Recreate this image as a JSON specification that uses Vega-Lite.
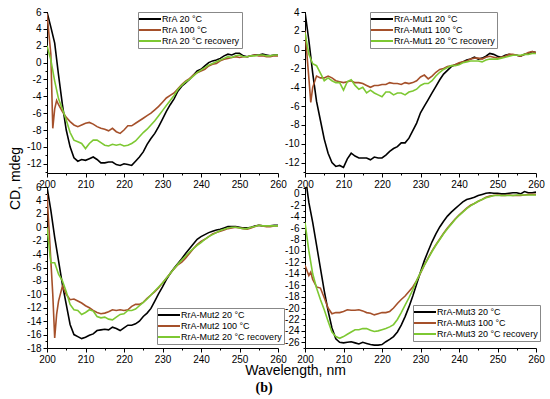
{
"$schema": "https://vega.github.io/schema/vega-lite/v6.json",
"padding": {"left": 8, "top": 7, "right": 5, "bottom": 3},
"title": {"text": "(b)", "orient": "bottom", "font": "Liberation Serif", "fontSize": 14, "fontWeight": "bold", "anchor": "middle", "offset": 4, "dx": -12, "color": "black"},
"columns": 2,
"spacing": {"row": 14, "column": 27},
"bounds": "flush",
"resolve": {"scale": {"color": "independent", "y": "independent"}, "legend": {"color": "independent"}},
"datasets": {
"p1": [
{"w":200,"a":6,"b":5.8,"c":2.0},{"w":201,"a":4.2,"b":1.0,"c":0.3},{"w":201.5,"b":-7.8},{"w":202,"a":2.3,"b":-5.5,"c":-2.2},{"w":202.5,"b":-4.5},
{"w":203,"a":-1.5,"b":-5.0,"c":-4.3},{"w":204,"a":-5.0,"b":-5.8,"c":-5.5},{"w":205,"a":-8.0,"b":-6.5,"c":-6.8},{"w":206,"a":-10.0,"b":-7.0,"c":-8.3},
{"w":207,"a":-11.3,"b":-7.4,"c":-9.2},{"w":208,"a":-11.7,"b":-7.6,"c":-9.4},{"w":209,"a":-11.5,"b":-7.4,"c":-9.6},{"w":210,"a":-11.6,"b":-7.2,"c":-10.2},
{"w":211,"a":-11.4,"b":-7.1,"c":-9.6},{"w":212,"a":-11.2,"b":-7.3,"c":-9.2},{"w":213,"a":-11.5,"b":-7.6,"c":-9.2},{"w":214,"a":-11.9,"b":-7.8,"c":-9.5},
{"w":215,"a":-11.9,"b":-7.9,"c":-9.8},{"w":216,"a":-11.8,"b":-8.1,"c":-9.9},{"w":217,"a":-11.8,"b":-7.8,"c":-9.7},{"w":218,"a":-12.1,"b":-8.2,"c":-9.8},
{"w":219,"a":-12.2,"b":-8.4,"c":-9.7},{"w":220,"a":-12.0,"b":-8.0,"c":-9.9},{"w":221,"a":-12.1,"b":-7.5,"c":-9.8},{"w":222,"a":-12.2,"b":-7.5,"c":-9.6},
{"w":223,"a":-11.7,"b":-7.2,"c":-9.3},{"w":224,"a":-11.2,"b":-6.9,"c":-8.8},{"w":225,"a":-10.6,"b":-6.6,"c":-8.3},{"w":226,"a":-9.7,"b":-6.3,"c":-7.9},
{"w":227,"a":-9.0,"b":-6.0,"c":-7.4},{"w":228,"a":-8.4,"b":-5.6,"c":-6.9},{"w":229,"a":-7.6,"b":-5.2,"c":-6.3},{"w":230,"a":-6.7,"b":-4.7,"c":-5.7},
{"w":231,"a":-5.8,"b":-4.2,"c":-5.1},{"w":232,"a":-5.0,"b":-3.9,"c":-4.5},{"w":233,"a":-4.3,"b":-3.6,"c":-3.9},{"w":234,"a":-3.4,"b":-3.1,"c":-3.2},
{"w":235,"a":-2.8,"b":-2.6,"c":-2.7},{"w":236,"a":-2.4,"b":-2.2,"c":-2.3},{"w":237,"a":-2.0,"b":-1.9,"c":-2.0},{"w":238,"a":-1.5,"b":-1.5,"c":-1.6},
{"w":239,"a":-1.0,"b":-1.2,"c":-1.2},{"w":240,"a":-0.8,"b":-1.0,"c":-0.9},{"w":241,"a":-0.4,"b":-0.8,"c":-0.6},{"w":242,"a":0.0,"b":-0.4,"c":-0.3},
{"w":243,"a":0.2,"b":-0.2,"c":-0.1},{"w":244,"a":0.3,"b":-0.1,"c":0.1},{"w":245,"a":0.5,"b":0.2,"c":0.3},{"w":246,"a":0.8,"b":0.4,"c":0.5},
{"w":247,"a":1.0,"b":0.5,"c":0.7},{"w":248,"a":0.9,"b":0.6,"c":0.6},{"w":249,"a":1.1,"b":0.7,"c":0.8},{"w":250,"a":1.1,"b":0.6,"c":0.9},
{"w":251,"a":0.8,"b":0.7,"c":0.7},{"w":252,"a":0.7,"b":0.7,"c":0.7},{"w":253,"a":0.8,"b":0.8,"c":0.8},{"w":254,"a":0.9,"b":0.9,"c":0.8},
{"w":255,"a":0.9,"b":0.8,"c":0.9},{"w":256,"a":1.0,"b":0.8,"c":0.9},{"w":257,"a":0.9,"b":0.7,"c":0.8},{"w":258,"a":0.8,"b":0.7,"c":0.8},
{"w":259,"a":0.9,"b":0.8,"c":0.9},{"w":260,"a":0.9,"b":0.8,"c":0.9}
],
"p2": [
{"w":200,"a":4.0,"b":2.0,"c":1.8},{"w":201,"a":1.0,"b":-3.0,"c":-0.5},{"w":201.5,"b":-5.6},{"w":202,"a":-2.5,"b":-4.0,"c":-1.5},
{"w":203,"a":-5.5,"b":-2.8,"c":-1.7},{"w":204,"a":-7.5,"b":-3.0,"c":-2.5},{"w":205,"a":-9.5,"b":-3.0,"c":-3.3},{"w":206,"a":-11.0,"b":-2.8,"c":-3.0},
{"w":207,"a":-12.0,"b":-3.0,"c":-3.3},{"w":208,"a":-12.4,"b":-3.3,"c":-3.5},{"w":209,"a":-12.3,"b":-3.4,"c":-3.5},{"w":210,"a":-12.5,"b":-3.5,"c":-4.3},
{"w":211,"a":-11.6,"b":-3.4,"c":-3.4},{"w":212,"a":-11.0,"b":-3.3,"c":-3.2},{"w":213,"a":-11.3,"b":-3.5,"c":-3.8},{"w":214,"a":-11.5,"b":-3.5,"c":-4.2},
{"w":215,"a":-11.5,"b":-3.6,"c":-4.0},{"w":216,"a":-11.5,"b":-3.8,"c":-4.6},{"w":217,"a":-11.7,"b":-4.0,"c":-4.3},{"w":218,"a":-11.4,"b":-3.8,"c":-4.6},
{"w":219,"a":-11.5,"b":-3.8,"c":-4.8},{"w":220,"a":-11.5,"b":-3.7,"c":-5.0},{"w":221,"a":-11.2,"b":-3.7,"c":-4.5},{"w":222,"a":-10.8,"b":-3.5,"c":-4.5},
{"w":223,"a":-10.5,"b":-3.6,"c":-4.8},{"w":224,"a":-10.3,"b":-3.6,"c":-4.6},{"w":225,"a":-9.9,"b":-3.7,"c":-4.6},{"w":226,"a":-9.9,"b":-3.5,"c":-4.8},
{"w":227,"a":-9.4,"b":-3.6,"c":-4.5},{"w":228,"a":-8.6,"b":-3.5,"c":-4.4},{"w":229,"a":-7.8,"b":-3.3,"c":-4.2},{"w":230,"a":-6.7,"b":-2.9,"c":-3.8},
{"w":231,"a":-6.0,"b":-2.7,"c":-3.6},{"w":232,"a":-5.3,"b":-3.1,"c":-3.6},{"w":233,"a":-4.6,"b":-2.8,"c":-3.3},{"w":234,"a":-3.9,"b":-2.4,"c":-2.8},
{"w":235,"a":-3.2,"b":-2.1,"c":-2.4},{"w":236,"a":-2.6,"b":-2.0,"c":-2.1},{"w":237,"a":-2.2,"b":-1.8,"c":-1.9},{"w":238,"a":-1.8,"b":-1.7,"c":-1.7},
{"w":239,"a":-1.6,"b":-1.6,"c":-1.7},{"w":240,"a":-1.5,"b":-1.4,"c":-1.6},{"w":241,"a":-1.3,"b":-1.3,"c":-1.4},{"w":242,"a":-1.1,"b":-1.2,"c":-1.3},
{"w":243,"a":-1.0,"b":-1.0,"c":-1.2},{"w":244,"a":-0.8,"b":-0.9,"c":-1.2},{"w":245,"a":-1.0,"b":-0.9,"c":-1.2},{"w":246,"a":-0.9,"b":-1.0,"c":-1.3},
{"w":247,"a":-0.7,"b":-0.8,"c":-1.1},{"w":248,"a":-0.4,"b":-0.7,"c":-1.0},{"w":249,"a":-0.5,"b":-0.8,"c":-1.0},{"w":250,"a":-0.7,"b":-0.9,"c":-1.0},
{"w":251,"a":-0.8,"b":-0.8,"c":-0.9},{"w":252,"a":-0.6,"b":-0.7,"c":-0.8},{"w":253,"a":-0.5,"b":-0.5,"c":-0.7},{"w":254,"a":-0.6,"b":-0.5,"c":-0.6},
{"w":255,"a":-0.6,"b":-0.6,"c":-0.6},{"w":256,"a":-0.7,"b":-0.7,"c":-0.6},{"w":257,"a":-0.5,"b":-0.5,"c":-0.5},{"w":258,"a":-0.4,"b":-0.3,"c":-0.5},
{"w":259,"a":-0.2,"b":-0.2,"c":-0.4},{"w":260,"a":-0.3,"b":-0.3,"c":-0.4}
],
"p3": [
{"w":200,"a":6.0,"b":5.0,"c":0.0},{"w":201,"a":2.5,"b":-5.0,"c":-5.3},{"w":201.5,"b":-10.0},{"w":202,"a":-1.5,"b":-16.5,"c":-5.3},{"w":202.5,"b":-13.0},
{"w":203,"a":-5.0,"b":-11.0,"c":-7.0},{"w":204,"a":-8.5,"b":-8.8,"c":-8.0},{"w":205,"a":-11.5,"b":-10.0,"c":-9.6},{"w":206,"a":-14.5,"b":-10.8,"c":-11.5},
{"w":207,"a":-16.0,"b":-10.7,"c":-12.3},{"w":208,"a":-16.3,"b":-11.0,"c":-12.4},{"w":209,"a":-16.6,"b":-11.3,"c":-13.0},{"w":210,"a":-16.4,"b":-11.7,"c":-12.7},
{"w":211,"a":-16.1,"b":-12.0,"c":-12.3},{"w":212,"a":-15.9,"b":-12.4,"c":-12.5},{"w":213,"a":-15.4,"b":-12.7,"c":-13.3},{"w":214,"a":-15.3,"b":-12.9,"c":-13.5},
{"w":215,"a":-15.2,"b":-12.8,"c":-13.4},{"w":216,"a":-15.3,"b":-12.6,"c":-13.7},{"w":217,"a":-14.9,"b":-12.3,"c":-13.8},{"w":218,"a":-15.1,"b":-12.4,"c":-13.4},
{"w":219,"a":-15.4,"b":-12.3,"c":-13.0},{"w":220,"a":-15.0,"b":-12.4,"c":-12.9},{"w":221,"a":-14.6,"b":-12.3,"c":-12.4},{"w":222,"a":-14.6,"b":-11.8,"c":-12.4},
{"w":223,"a":-14.4,"b":-11.5,"c":-12.2},{"w":224,"a":-14.0,"b":-11.5,"c":-11.7},{"w":225,"a":-13.3,"b":-11.2,"c":-11.2},{"w":226,"a":-12.8,"b":-10.6,"c":-10.7},
{"w":227,"a":-12.1,"b":-10.1,"c":-10.1},{"w":228,"a":-11.0,"b":-9.6,"c":-9.5},{"w":229,"a":-9.9,"b":-9.0,"c":-8.9},{"w":230,"a":-8.9,"b":-8.3,"c":-8.3},
{"w":231,"a":-7.8,"b":-7.6,"c":-7.6},{"w":232,"a":-6.9,"b":-6.9,"c":-6.9},{"w":233,"a":-6.1,"b":-6.2,"c":-6.2},{"w":234,"a":-5.4,"b":-5.6,"c":-5.5},
{"w":235,"a":-4.7,"b":-5.2,"c":-4.9},{"w":236,"a":-3.9,"b":-4.6,"c":-4.3},{"w":237,"a":-3.2,"b":-3.9,"c":-3.7},{"w":238,"a":-2.5,"b":-3.2,"c":-3.2},
{"w":239,"a":-1.8,"b":-2.6,"c":-2.7},{"w":240,"a":-1.4,"b":-2.1,"c":-2.3},{"w":241,"a":-1.1,"b":-1.8,"c":-1.8},{"w":242,"a":-0.8,"b":-1.4,"c":-1.4},
{"w":243,"a":-0.6,"b":-1.0,"c":-1.1},{"w":244,"a":-0.4,"b":-0.8,"c":-0.8},{"w":245,"a":-0.3,"b":-0.6,"c":-0.5},{"w":246,"a":-0.1,"b":-0.4,"c":-0.3},
{"w":247,"a":0.1,"b":-0.2,"c":-0.1},{"w":248,"a":0.1,"b":-0.1,"c":0.0},{"w":249,"a":0.1,"b":0.0,"c":0.0},{"w":250,"a":0.0,"b":-0.1,"c":-0.1},
{"w":251,"a":-0.1,"b":-0.2,"c":-0.2},{"w":252,"a":-0.1,"b":-0.3,"c":-0.2},{"w":253,"a":0.0,"b":-0.1,"c":0.0},{"w":254,"a":0.2,"b":0.1,"c":0.1},
{"w":255,"a":0.3,"b":0.3,"c":0.3},{"w":256,"a":0.2,"b":0.2,"c":0.2},{"w":257,"a":0.2,"b":0.1,"c":0.2},{"w":258,"a":0.2,"b":0.1,"c":0.2},
{"w":259,"a":0.3,"b":0.2,"c":0.2},{"w":260,"a":0.3,"b":0.2,"c":0.2}
],
"p4": [
{"w":200,"a":3.5,"b":-12.5,"c":-5.0},{"w":201,"a":-1.5,"b":-14.3,"c":-10.0},{"w":201.5,"b":-13.7},{"w":202,"a":-5.0,"b":-15.0,"c":-14.0},
{"w":203,"a":-9.0,"b":-16.3,"c":-16.5},{"w":204,"a":-13.0,"b":-16.5,"c":-18.5},{"w":205,"a":-17.0,"b":-18.2,"c":-20.3},{"w":206,"a":-20.5,"b":-20.0,"c":-22.3},
{"w":207,"a":-23.5,"b":-21.0,"c":-24.2},{"w":208,"a":-25.4,"b":-20.8,"c":-25.0},{"w":209,"a":-26.0,"b":-20.8,"c":-25.3},{"w":210,"a":-26.1,"b":-20.6,"c":-25.0},
{"w":211,"a":-26.0,"b":-20.3,"c":-24.6},{"w":212,"a":-25.9,"b":-20.4,"c":-24.2},{"w":213,"a":-26.1,"b":-20.4,"c":-23.8},{"w":214,"a":-26.3,"b":-20.3,"c":-23.8},
{"w":215,"a":-26.0,"b":-20.5,"c":-23.6},{"w":216,"a":-26.2,"b":-20.8,"c":-23.6},{"w":217,"a":-26.4,"b":-20.9,"c":-23.9},{"w":218,"a":-26.5,"b":-21.2,"c":-24.1},
{"w":219,"a":-26.5,"b":-21.0,"c":-24.0},{"w":220,"a":-26.4,"b":-20.8,"c":-23.8},{"w":221,"a":-25.9,"b":-20.8,"c":-23.6},{"w":222,"a":-25.5,"b":-20.6,"c":-23.3},
{"w":223,"a":-25.0,"b":-20.0,"c":-22.9},{"w":224,"a":-24.2,"b":-19.2,"c":-22.0},{"w":225,"a":-23.0,"b":-18.5,"c":-20.8},{"w":226,"a":-21.5,"b":-17.9,"c":-19.5},
{"w":227,"a":-19.8,"b":-17.1,"c":-18.2},{"w":228,"a":-17.9,"b":-16.3,"c":-16.8},{"w":229,"a":-15.8,"b":-15.2,"c":-15.2},{"w":230,"a":-13.7,"b":-13.9,"c":-13.8},
{"w":231,"a":-11.7,"b":-12.5,"c":-12.5},{"w":232,"a":-10.0,"b":-11.2,"c":-11.3},{"w":233,"a":-8.4,"b":-10.0,"c":-10.1},{"w":234,"a":-7.0,"b":-8.9,"c":-9.0},
{"w":235,"a":-5.8,"b":-7.9,"c":-8.0},{"w":236,"a":-4.8,"b":-6.9,"c":-7.0},{"w":237,"a":-3.9,"b":-6.0,"c":-6.1},{"w":238,"a":-3.2,"b":-5.2,"c":-5.3},
{"w":239,"a":-2.6,"b":-4.4,"c":-4.5},{"w":240,"a":-2.0,"b":-3.7,"c":-3.8},{"w":241,"a":-1.4,"b":-3.1,"c":-3.2},{"w":242,"a":-1.0,"b":-2.5,"c":-2.6},
{"w":243,"a":-0.8,"b":-2.0,"c":-2.1},{"w":244,"a":-0.6,"b":-1.7,"c":-1.7},{"w":245,"a":-0.3,"b":-1.3,"c":-1.3},{"w":246,"a":-0.1,"b":-1.0,"c":-1.0},
{"w":247,"a":0.1,"b":-0.6,"c":-0.7},{"w":248,"a":0.2,"b":-0.4,"c":-0.5},{"w":249,"a":0.1,"b":-0.3,"c":-0.3},{"w":250,"a":0.1,"b":-0.2,"c":-0.3},
{"w":251,"a":0.0,"b":-0.3,"c":-0.3},{"w":252,"a":0.0,"b":-0.3,"c":-0.3},{"w":253,"a":0.1,"b":-0.2,"c":-0.3},{"w":254,"a":0.2,"b":-0.3,"c":-0.3},
{"w":255,"a":0.2,"b":-0.3,"c":-0.2},{"w":256,"a":0.0,"b":-0.3,"c":-0.2},{"w":257,"a":0.4,"b":-0.2,"c":-0.2},{"w":258,"a":0.2,"b":-0.1,"c":-0.2},
{"w":259,"a":0.2,"b":-0.1,"c":-0.2},{"w":260,"a":0.3,"b":-0.1,"c":-0.2}
]
},
"concat": [
{
"width": 231, "height": 161,
"data": {"name": "p1"},
"transform": [{"fold": ["a","b","c"], "as": ["s","v"]}, {"filter": "isValid(datum.v)"}],
"mark": {"type": "line", "strokeWidth": 1.6, "clip": true},
"encoding": {
"x": {"field": "w", "type": "quantitative", "scale": {"domain": [200,260], "nice": false, "zero": false},
 "axis": {"title": null, "values": [200,205,210,215,220,225,230,235,240,245,250,255,260], "labelExpr": "datum.value % 10 == 0 ? '' + datum.value : ''", "tickSize": {"condition": {"test": "datum.value % 10 == 0", "value": 4}, "value": 2}}},
"y": {"field": "v", "type": "quantitative", "scale": {"domain": [-13.1,6], "nice": false, "zero": false},
 "axis": {"values": [-13,-12,-11,-10,-9,-8,-7,-6,-5,-4,-3,-2,-1,0,1,2,3,4,5,6], "labelExpr": "datum.value % 2 == 0 ? '' + datum.value : ''", "tickSize": {"condition": {"test": "datum.value % 2 == 0", "value": 4}, "value": 2},
  "title": "CD, mdeg", "titleX": -32, "titleY": 166, "titleAngle": 270, "titleAlign": "center", "titleBaseline": "middle"}},
"color": {"field": "s", "type": "nominal", "scale": {"domain": ["a","b","c"], "range": ["#000000","#a5502a","#7dc832"]},
 "legend": {"orient": "none", "legendX": 91, "legendY": 0, "title": null, "labelExpr": "datum.label == 'a' ? 'RrA 20 °C' : datum.label == 'b' ? 'RrA 100 °C' : 'RrA 20 °C recovery'"}}
}
},
{
"width": 231, "height": 161,
"data": {"name": "p2"},
"transform": [{"fold": ["a","b","c"], "as": ["s","v"]}, {"filter": "isValid(datum.v)"}],
"mark": {"type": "line", "strokeWidth": 1.6, "clip": true},
"encoding": {
"x": {"field": "w", "type": "quantitative", "scale": {"domain": [200,260], "nice": false, "zero": false},
 "axis": {"title": null, "values": [200,205,210,215,220,225,230,235,240,245,250,255,260], "labelExpr": "datum.value % 10 == 0 ? '' + datum.value : ''", "tickSize": {"condition": {"test": "datum.value % 10 == 0", "value": 4}, "value": 2}}},
"y": {"field": "v", "type": "quantitative", "scale": {"domain": [-13.1,4], "nice": false, "zero": false},
 "axis": {"title": null, "values": [-13,-12,-11,-10,-9,-8,-7,-6,-5,-4,-3,-2,-1,0,1,2,3,4], "labelExpr": "datum.value % 2 == 0 ? '' + datum.value : ''", "tickSize": {"condition": {"test": "datum.value % 2 == 0", "value": 4}, "value": 2}}},
"color": {"field": "s", "type": "nominal", "scale": {"domain": ["a","b","c"], "range": ["#000000","#a5502a","#7dc832"]},
 "legend": {"orient": "none", "legendX": 65, "legendY": 0, "title": null, "labelExpr": "datum.label == 'a' ? 'RrA-Mut1 20 °C' : datum.label == 'b' ? 'RrA-Mut1 100 °C' : 'RrA-Mut1 20 °C recovery'"}}
}
},
{
"width": 231, "height": 161,
"data": {"name": "p3"},
"transform": [{"fold": ["a","b","c"], "as": ["s","v"]}, {"filter": "isValid(datum.v)"}],
"mark": {"type": "line", "strokeWidth": 1.6, "clip": true},
"encoding": {
"x": {"field": "w", "type": "quantitative", "scale": {"domain": [200,260], "nice": false, "zero": false},
 "axis": {"values": [200,205,210,215,220,225,230,235,240,245,250,255,260], "labelExpr": "datum.value % 10 == 0 ? '' + datum.value : ''", "tickSize": {"condition": {"test": "datum.value % 10 == 0", "value": 4}, "value": 2},
  "title": "Wavelength, nm", "titleX": 248, "titleY": 22, "titleAlign": "center", "titleBaseline": "middle"}},
"y": {"field": "v", "type": "quantitative", "scale": {"domain": [-18,6], "nice": false, "zero": false},
 "axis": {"title": null, "values": [-18,-17,-16,-15,-14,-13,-12,-11,-10,-9,-8,-7,-6,-5,-4,-3,-2,-1,0,1,2,3,4,5,6], "labelExpr": "datum.value % 2 == 0 ? '' + datum.value : ''", "tickSize": {"condition": {"test": "datum.value % 2 == 0", "value": 4}, "value": 2}}},
"color": {"field": "s", "type": "nominal", "scale": {"domain": ["a","b","c"], "range": ["#000000","#a5502a","#7dc832"]},
 "legend": {"orient": "none", "legendX": 110, "legendY": 121, "title": null, "labelExpr": "datum.label == 'a' ? 'RrA-Mut2 20 °C' : datum.label == 'b' ? 'RrA-Mut2 100 °C' : 'RrA-Mut2 20 °C recovery'"}}
}
},
{
"width": 231, "height": 161,
"data": {"name": "p4"},
"transform": [{"fold": ["a","b","c"], "as": ["s","v"]}, {"filter": "isValid(datum.v)"}],
"mark": {"type": "line", "strokeWidth": 1.6, "clip": true},
"encoding": {
"x": {"field": "w", "type": "quantitative", "scale": {"domain": [200,260], "nice": false, "zero": false},
 "axis": {"title": null, "values": [200,205,210,215,220,225,230,235,240,245,250,255,260], "labelExpr": "datum.value % 10 == 0 ? '' + datum.value : ''", "tickSize": {"condition": {"test": "datum.value % 10 == 0", "value": 4}, "value": 2}}},
"y": {"field": "v", "type": "quantitative", "scale": {"domain": [-27,1.2], "nice": false, "zero": false},
 "axis": {"title": null, "values": [-27,-26,-25,-24,-23,-22,-21,-20,-19,-18,-17,-16,-15,-14,-13,-12,-11,-10,-9,-8,-7,-6,-5,-4,-3,-2,-1,0,1], "labelExpr": "datum.value % 2 == 0 ? '' + datum.value : ''", "tickSize": {"condition": {"test": "datum.value % 2 == 0", "value": 4}, "value": 2}}},
"color": {"field": "s", "type": "nominal", "scale": {"domain": ["a","b","c"], "range": ["#000000","#a5502a","#7dc832"]},
 "legend": {"orient": "none", "legendX": 108, "legendY": 118, "title": null, "labelExpr": "datum.label == 'a' ? 'RrA-Mut3 20 °C' : datum.label == 'b' ? 'RrA-Mut3 100 °C' : 'RrA-Mut3 20 °C recovery'"}}
}
}
],
"config": {
"view": {"stroke": null},
"axis": {"grid": false, "labelFont": "Liberation Sans", "labelFontSize": 10, "labelColor": "#000", "domainColor": "#000", "tickColor": "#000", "labelPadding": 2, "labelFlush": false, "labelOverlap": false, "labelBound": false, "titleFont": "Liberation Sans", "titleFontSize": 14, "titleFontWeight": "normal", "titleColor": "#000"},
"legend": {"symbolType": "M-2.75,0H2.75", "symbolSize": 64, "symbolStrokeWidth": 2, "labelFont": "Liberation Sans", "labelFontSize": 9, "labelColor": "#000", "fillColor": "white", "strokeColor": "#888", "padding": 2, "rowPadding": 1, "labelOffset": 7, "symbolOffset": 5}
}
}
